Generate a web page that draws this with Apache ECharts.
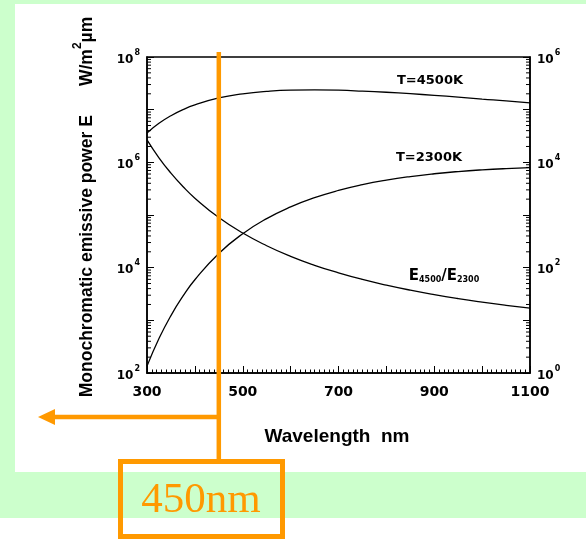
<!DOCTYPE html>
<html>
<head>
<meta charset="utf-8">
<script src="https://cdn.jsdelivr.net/npm/echarts@6/dist/echarts.min.js"></script>
<style>
  html, body { margin: 0; padding: 0; background: #ffffff; }
  #chart { width: 586px; height: 539px; }
</style>
</head>
<body>
<div id="chart"></div>
<script>
// Wavelength samples (nm)
const wavelengths = [300, 325, 350, 375, 400, 450, 500, 550, 600, 650, 700, 750, 800, 850, 900, 950, 1000, 1050, 1100];
// Monochromatic emissive power, W/m^2·µm (left axis)
const power4500 = [3.62e6, 5.51e6, 7.68e6, 1.00e7, 1.23e7, 1.67e7, 2.00e7, 2.23e7, 2.35e7, 2.37e7, 2.34e7, 2.25e7, 2.14e7, 2.01e7, 1.87e7, 1.73e7, 1.59e7, 1.47e7, 1.34e7];
const power2300 = [135, 451, 1232, 2870, 5900, 18600, 44100, 85400, 142700, 213200, 292800, 376300, 459000, 537100, 607600, 668800, 719700, 760000, 790300];
// Ratio E4500 / E2300 (right axis)
const ratio = [26700, 12200, 6240, 3480, 2090, 895, 454, 261, 164, 111, 79.8, 59.8, 46.6, 37.4, 30.8, 25.9, 22.2, 19.3, 17.0];

// Axis labelling
const xLabelValues = [300, 500, 700, 900, 1100];
const leftLabelExponents = [2, 4, 6, 8];
const rightLabelExponents = [0, 2, 4, 6];
const markedWavelength = 450;

// Minor log ticks (2..9 within each decade)
function minorLogTicks(fromExp, toExp) {
  const out = [];
  for (let e = fromExp; e < toExp; e++) {
    for (let m = 2; m <= 9; m++) out.push(m * Math.pow(10, e));
  }
  return out;
}
const leftMinor = minorLogTicks(2, 8);
const rightMinor = minorLogTicks(0, 6);

const ORANGE = '#FF9900';
const GREEN = '#CCFFCC';
const tickFont = 'DejaVu Sans';

function powLabel(exps) {
  return function (v) {
    const e = Math.round(Math.log10(v));
    return exps.indexOf(e) >= 0 ? '{b|10}{s|' + e + '}' : '';
  };
}
const powRich = {
  b: { fontFamily: tickFont, fontWeight: 'bold', fontSize: 12, color: '#000', verticalAlign: 'bottom', lineHeight: 17 },
  s: { fontFamily: tickFont, fontWeight: 'bold', fontSize: 8, color: '#000', verticalAlign: 'top', lineHeight: 17, padding: [0, 0, 0, 1] }
};

function tickSeries(values, xEdge, dir, yAxisIndex) {
  return {
    type: 'custom',
    yAxisIndex: yAxisIndex,
    silent: true,
    clip: false,
    z: 5,
    data: values.map(v => [xEdge, v]),
    renderItem: function (params, api) {
      const p = api.coord([api.value(0), api.value(1)]);
      return {
        type: 'line',
        shape: { x1: p[0], y1: p[1], x2: p[0] + dir * 4, y2: p[1] },
        style: { stroke: '#000', lineWidth: 1 }
      };
    }
  };
}

function curve(name, values, yAxisIndex) {
  return {
    name: name,
    type: 'line',
    yAxisIndex: yAxisIndex,
    smooth: true,
    showSymbol: false,
    silent: true,
    z: 3,
    lineStyle: { color: '#000', width: 1.3 },
    data: wavelengths.map((w, i) => [w, values[i]])
  };
}

const chart = echarts.init(document.getElementById('chart'), null, { renderer: 'canvas' });

const baseGraphics = [
  { type: 'rect', z: -20, shape: { x: 0, y: 0, width: 586, height: 518 }, style: { fill: GREEN } },
  { type: 'rect', z: -19, shape: { x: 15, y: 4, width: 571, height: 468 }, style: { fill: '#ffffff' } },
  {
    type: 'text', x: 84, y: 207, rotation: Math.PI / 2, z: 10,
    style: {
      text: '{t|Monochromatic emissive power E      W/m}{u|2}{t|µm}',
      align: 'center', verticalAlign: 'middle',
      rich: {
        t: { fontFamily: 'Liberation Sans', fontWeight: 'bold', fontSize: 17.5, fill: '#000', verticalAlign: 'bottom', lineHeight: 24 },
        u: { fontFamily: 'Liberation Sans', fontWeight: 'bold', fontSize: 12, fill: '#000', verticalAlign: 'top', lineHeight: 24 }
      }
    }
  },
  {
    type: 'text', x: 337, y: 437, z: 10,
    style: { text: 'Wavelength  nm', fontFamily: 'Liberation Sans', fontWeight: 'bold', fontSize: 19, fill: '#000', align: 'center', verticalAlign: 'middle' }
  },
  {
    type: 'text', x: 430, y: 81, z: 10,
    style: { text: 'T=4500K', fontFamily: tickFont, fontWeight: 'bold', fontSize: 13, fill: '#000', align: 'center', verticalAlign: 'middle' }
  },
  {
    type: 'text', x: 429, y: 158, z: 10,
    style: { text: 'T=2300K', fontFamily: tickFont, fontWeight: 'bold', fontSize: 13, fill: '#000', align: 'center', verticalAlign: 'middle' }
  },
  {
    type: 'text', x: 444, y: 276, z: 10,
    style: {
      text: '{e|E}{d|4500}{e|/E}{d|2300}',
      align: 'center', verticalAlign: 'middle',
      rich: {
        e: { fontFamily: tickFont, fontWeight: 'bold', fontSize: 15, fill: '#000', verticalAlign: 'bottom', lineHeight: 16 },
        d: { fontFamily: tickFont, fontWeight: 'bold', fontSize: 8, fill: '#000', verticalAlign: 'bottom', lineHeight: 15 }
      }
    }
  }
];

const option = {
  animation: false,
  backgroundColor: '#ffffff',
  grid: { left: 147, right: 56, top: 57, bottom: 166, show: true, borderColor: '#000', borderWidth: 1.5, backgroundColor: 'transparent' },
  xAxis: {
    type: 'value',
    min: 300, max: 1100, interval: 100,
    axisLine: { lineStyle: { color: '#000', width: 1.5 } },
    axisTick: { inside: true, length: 7, lineStyle: { color: '#000', width: 1 } },
    minorTick: { show: true, splitNumber: 10, length: 3.5, lineStyle: { color: '#000', width: 1 } },
    splitLine: { show: false },
    axisLabel: {
      margin: 12,
      fontFamily: tickFont, fontWeight: 'bold', fontSize: 14, color: '#000',
      formatter: v => xLabelValues.indexOf(v) >= 0 ? String(v) : ''
    }
  },
  yAxis: [
    {
      type: 'log', logBase: 10, min: 1e2, max: 1e8, splitNumber: 6,
      axisLine: { show: true, lineStyle: { color: '#000', width: 1.5 } },
      axisTick: { show: true, inside: true, length: 7, lineStyle: { color: '#000', width: 1 } },
      splitLine: { show: false },
      axisLabel: { margin: 7, formatter: powLabel(leftLabelExponents), rich: powRich }
    },
    {
      type: 'log', logBase: 10, min: 1, max: 1e6, splitNumber: 6, position: 'right',
      axisLine: { show: true, lineStyle: { color: '#000', width: 1.5 } },
      axisTick: { show: true, inside: true, length: 7, lineStyle: { color: '#000', width: 1 } },
      splitLine: { show: false },
      axisLabel: { margin: 7, formatter: powLabel(rightLabelExponents), rich: powRich }
    }
  ],
  series: [
    curve('T=4500K', power4500, 0),
    curve('T=2300K', power2300, 0),
    curve('E4500/E2300', ratio, 1),
    tickSeries(leftMinor, 300, 1, 0),
    tickSeries(rightMinor, 1100, -1, 1)
  ],
  graphic: { elements: baseGraphics }
};

chart.setOption(option);

// Orange marker at the chosen wavelength, with arrow and caption box
const mx = chart.convertToPixel({ xAxisIndex: 0 }, markedWavelength);
const markerGraphics = [
  { type: 'line', z: 50, shape: { x1: mx, y1: 52, x2: mx, y2: 460 }, style: { stroke: ORANGE, lineWidth: 4.5 } },
  { type: 'line', z: 50, shape: { x1: mx, y1: 417, x2: 52, y2: 417 }, style: { stroke: ORANGE, lineWidth: 4.5 } },
  { type: 'polygon', z: 50, shape: { points: [[38, 417], [55, 409], [55, 425]] }, style: { fill: ORANGE } },
  { type: 'rect', z: 50, shape: { x: 120.5, y: 461.5, width: 162, height: 75 }, style: { fill: 'none', stroke: ORANGE, lineWidth: 5 } },
  {
    type: 'text', x: 201, y: 501, z: 51,
    style: { text: markedWavelength + 'nm', fontFamily: 'Liberation Serif', fontSize: 43, fill: ORANGE, align: 'center', verticalAlign: 'middle' }
  }
];
chart.setOption({ graphic: { elements: baseGraphics.concat(markerGraphics) } });
</script>
</body>
</html>
